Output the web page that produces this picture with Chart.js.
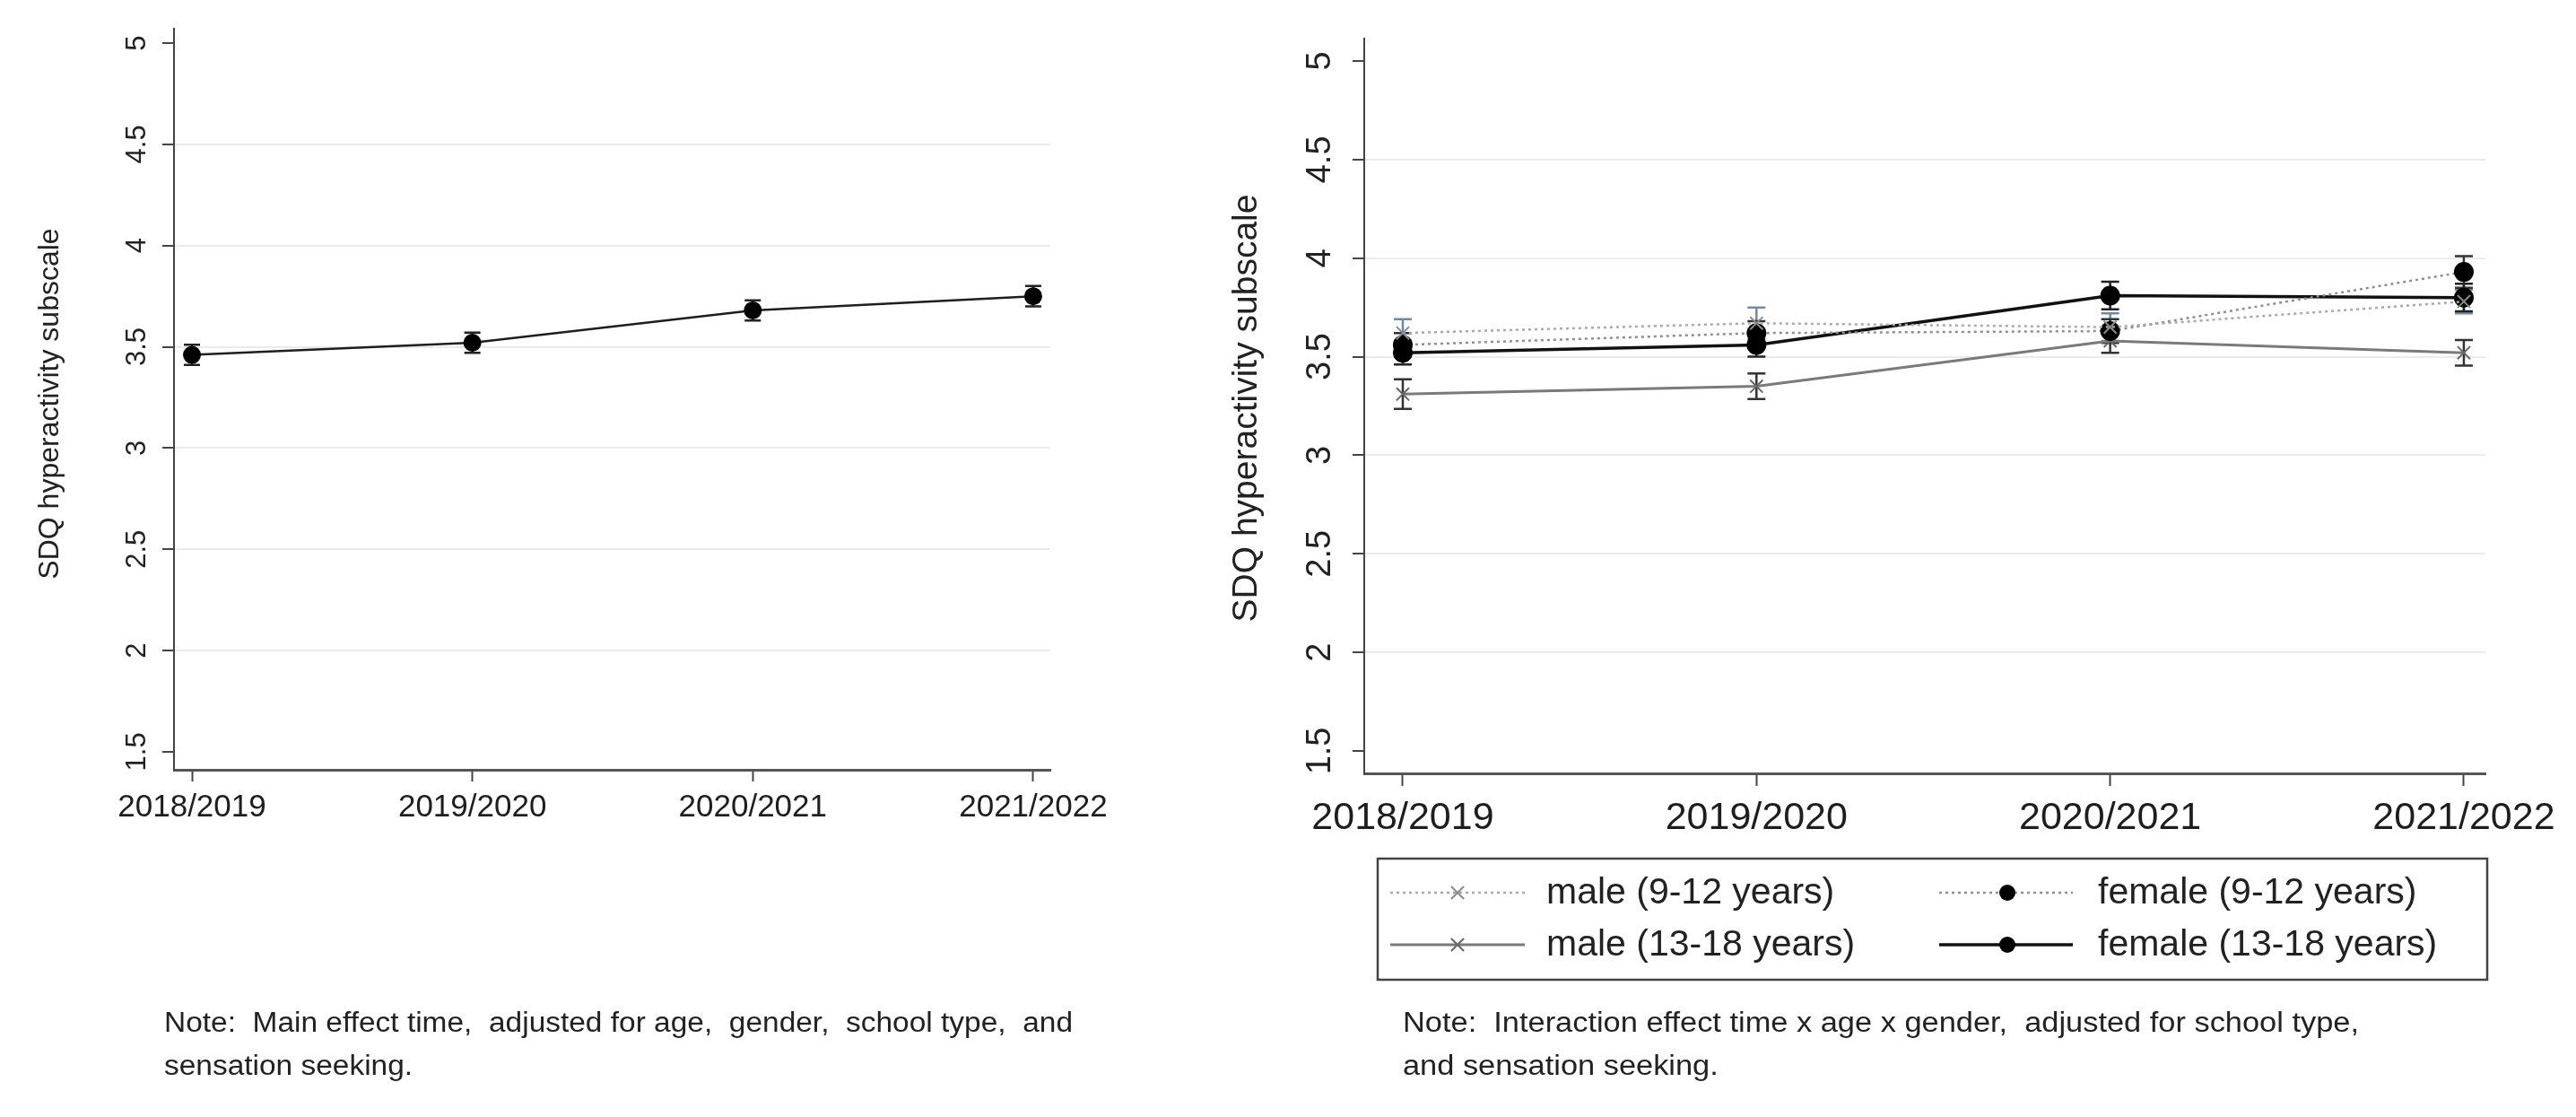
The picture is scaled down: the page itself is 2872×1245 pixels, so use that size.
<!DOCTYPE html>
<html><head><meta charset="utf-8">
<script src="https://cdn.jsdelivr.net/npm/chart.js@4.4.1/dist/chart.umd.min.js"></script>
<style>
html,body{margin:0;padding:0;background:#fff;width:2872px;height:1245px;overflow:hidden;position:relative;}
canvas{position:absolute;top:0;}
#c1{left:0;} #c2{left:1300px;}
.note{position:absolute;font-family:"Liberation Sans",Arial,sans-serif;font-size:31px;color:#222;white-space:pre;transform-origin:0 50%;line-height:1;}
</style></head><body>
<canvas id="c1" width="1300" height="1245"></canvas>
<canvas id="c2" width="1572" height="1245"></canvas>
<div class="note" id="n1a" style="left:183px;top:1124px;">Note:  Main effect time,  adjusted for age,  gender,  school type,  and</div>
<div class="note" id="n1b" style="left:183px;top:1172px;">sensation seeking.</div>
<div class="note" id="n2a" style="left:1564px;top:1124px;">Note:  Interaction effect time x age x gender,  adjusted for school type,</div>
<div class="note" id="n2b" style="left:1564px;top:1172px;">and sensation seeking.</div>
<script>
// ---------- data ----------
const categories = ['2018/2019','2019/2020','2020/2021','2021/2022'];
const yTickValues = [1.5,2,2.5,3,3.5,4,4.5,5];
const yTickLabels = ['1.5','2','2.5','3','3.5','4','4.5','5'];
const yTitle = 'SDQ hyperactivity subscale';

const mainEffect   = [3.46,3.52,3.68,3.75];
const mainEffectCI = [0.05,0.05,0.05,0.05];

const seriesLabels = ['male (9-12 years)','female (9-12 years)','male (13-18 years)','female (13-18 years)'];
const male912     = [3.62,3.67,3.65,3.78];
const male912CI   = [0.07,0.08,0.07,0.06];
const female912   = [3.56,3.62,3.63,3.93];
const female912CI = [0.06,0.06,0.06,0.08];
const male1318    = [3.31,3.35,3.58,3.52];
const male1318CI  = [0.075,0.065,0.06,0.065];
const female1318  = [3.52,3.56,3.81,3.80];
const female1318CI= [0.06,0.06,0.07,0.07];

// ---------- helpers ----------
const FAM = '"Liberation Sans", Arial, sans-serif';
const pts = arr => arr.map((v,i)=>({x:i,y:v}));

const decor = {
  id:'decor',
  beforeDatasetsDraw(chart, args, o){
    const xs=chart.scales.x, ys=chart.scales.y, ctx=chart.ctx;
    chart.data.datasets.forEach(ds=>{
      if(!ds.ci) return;
      ctx.save(); ctx.strokeStyle=ds.ciColor; ctx.lineWidth=o.ciWidth; ctx.setLineDash([]);
      ds.data.forEach((p,i)=>{
        const x=xs.getPixelForValue(p.x);
        const y1=ys.getPixelForValue(p.y-ds.ci[i]), y2=ys.getPixelForValue(p.y+ds.ci[i]);
        ctx.beginPath();
        ctx.moveTo(x,y1); ctx.lineTo(x,y2);
        ctx.moveTo(x-o.cap,y1); ctx.lineTo(x+o.cap,y1);
        ctx.moveTo(x-o.cap,y2); ctx.lineTo(x+o.cap,y2);
        ctx.stroke();
      });
      ctx.restore();
    });
  },
  afterDraw(chart, args, o){
    const ctx=chart.ctx, ys=chart.scales.y;
    ctx.save();
    ctx.fillStyle='#222';
    ctx.textAlign='center'; ctx.textBaseline='middle';
    ctx.font=o.tickFont+'px '+FAM;
    ys.ticks.forEach(t=>{
      const y=ys.getPixelForValue(t.value);
      const lab=yTickLabels[yTickValues.indexOf(t.value)];
      ctx.save(); ctx.translate(o.tickX,y); ctx.rotate(-Math.PI/2); ctx.fillText(lab,0,0); ctx.restore();
    });
    ctx.font=o.titleFont+'px '+FAM;
    ctx.save(); ctx.translate(o.titleX,o.titleY); ctx.rotate(-Math.PI/2); ctx.fillText(yTitle,0,0); ctx.restore();
    const L=o.legend;
    if(L){
      ctx.strokeStyle='#444'; ctx.lineWidth=2.5; ctx.setLineDash([]);
      ctx.strokeRect(L.box[0],L.box[1],L.box[2]-L.box[0],L.box[3]-L.box[1]);
      chart.data.datasets.forEach((ds,i)=>{
        const r=Math.floor(i/2), c=L.cols[i%2], y=L.rows[r];
        ctx.save();
        ctx.strokeStyle=ds.borderColor; ctx.lineWidth=ds.borderWidth;
        ctx.setLineDash(ds.borderDash||[]);
        ctx.beginPath(); ctx.moveTo(c.x0,y); ctx.lineTo(c.x1,y); ctx.stroke();
        ctx.setLineDash([]);
        ctx.fillStyle=ds.pointBackgroundColor; ctx.strokeStyle=ds.pointBorderColor; ctx.lineWidth=ds.pointBorderWidth;
        Chart.helpers.drawPoint(ctx,{pointStyle:ds.pointStyle,radius:L.markerR[i],rotation:0,borderWidth:ds.pointBorderWidth},c.mx,y);
        ctx.restore();
        ctx.fillStyle='#222'; ctx.font=L.font+'px '+FAM; ctx.textAlign='left'; ctx.textBaseline='middle';
        ctx.fillText(ds.label,c.tx,y+1);
      });
    }
    ctx.restore();
  }
};

function yGridColor(c){ return (c.tick && (c.tick.value===5 || c.tick.value===1.5)) ? 'rgba(0,0,0,0)' : '#ebebeb'; }

function makeScales(o){
  return {
    x:{type:'linear', min:o.xmin, max:o.xmax,
      afterBuildTicks:s=>{ s.ticks=categories.map((c,i)=>({value:i})); },
      afterFit:s=>{ s.height=o.xh; },
      grid:{drawOnChartArea:false, drawTicks:true, tickLength:o.xtl, tickColor:'#444', tickWidth:2},
      border:{color:'#555', width:3},
      ticks:{callback:v=>categories[v], font:{size:o.xfont,family:FAM}, color:'#1e1e1e', padding:o.xpad, maxRotation:0, minRotation:0, autoSkip:false}
    },
    y:{type:'linear', min:o.ymin, max:o.ymax,
      afterBuildTicks:s=>{ s.ticks=yTickValues.map(v=>({value:v})); },
      afterFit:s=>{ s.width=o.yw; },
      grid:{color:yGridColor, lineWidth:2, drawTicks:true, tickLength:o.ytl, tickColor:'#444', tickWidth:2},
      border:{color:'#444', width:2},
      ticks:{display:false}
    }
  };
}

// ---------- left chart ----------
new Chart(document.getElementById('c1'),{
  type:'scatter',
  data:{datasets:[{
    label:'main effect', data:pts(mainEffect), ci:mainEffectCI, ciColor:'#222',
    showLine:true, borderColor:'#1e1e1e', borderWidth:2.5,
    pointStyle:'circle', pointRadius:10, pointBackgroundColor:'#000', pointBorderColor:'#000', pointBorderWidth:0
  }]},
  options:{
    responsive:false, animation:false, devicePixelRatio:1,
    layout:{padding:{left:0, top:32, right:129, bottom:0}},
    plugins:{legend:{display:false}, tooltip:{enabled:false},
      decor:{ciWidth:2.5, cap:9, tickFont:31, tickX:153, titleFont:32, titleX:56, titleY:450}},
    scales:makeScales({xmin:-0.064, xmax:3.061, xh:1245-858, xtl:13, xfont:35, xpad:8,
                       ymin:1.411, ymax:5.071, yw:194, ytl:13})
  },
  plugins:[decor]
});

// ---------- right chart ----------
new Chart(document.getElementById('c2'),{
  type:'scatter',
  data:{datasets:[
    {label:seriesLabels[0], data:pts(male912), ci:male912CI, ciColor:'#6d8aa6',
     showLine:true, borderColor:'#a9a9a9', borderWidth:2.5, borderDash:[3,4],
     pointStyle:'crossRot', pointRadius:10, pointBackgroundColor:'#888', pointBorderColor:'#8a8a8a', pointBorderWidth:2},
    {label:seriesLabels[1], data:pts(female912), ci:female912CI, ciColor:'#333',
     showLine:true, borderColor:'#8f8f8f', borderWidth:2.5, borderDash:[3,4],
     pointStyle:'circle', pointRadius:11, pointBackgroundColor:'#000', pointBorderColor:'#000', pointBorderWidth:0},
    {label:seriesLabels[2], data:pts(male1318), ci:male1318CI, ciColor:'#333',
     showLine:true, borderColor:'#7a7a7a', borderWidth:3,
     pointStyle:'crossRot', pointRadius:10, pointBackgroundColor:'#666', pointBorderColor:'#666', pointBorderWidth:2},
    {label:seriesLabels[3], data:pts(female1318), ci:female1318CI, ciColor:'#222',
     showLine:true, borderColor:'#111', borderWidth:3.5,
     pointStyle:'circle', pointRadius:11, pointBackgroundColor:'#000', pointBorderColor:'#000', pointBorderWidth:0}
  ]},
  options:{
    responsive:false, animation:false, devicePixelRatio:1,
    layout:{padding:{left:0, top:43, right:101, bottom:0}},
    plugins:{legend:{display:false}, tooltip:{enabled:false},
      decor:{ciWidth:2.5, cap:10, tickFont:38, tickX:173, titleFont:39, titleX:90, titleY:455,
        legend:{box:[236,957,1473,1092], rows:[995,1053],
          cols:[{x0:250,x1:400,mx:325,tx:424},{x0:862,x1:1011,mx:938,tx:1039}],
          markerR:[10,9,10,9], font:41}}},
    scales:makeScales({xmin:-0.109, xmax:3.061, xh:1245-862, xtl:14, xfont:43, xpad:10,
                       ymin:1.386, ymax:5.114, yw:221, ytl:13})
  },
  plugins:[decor]
});

// ---------- notes: fit widths ----------
function fitNote(a,b,target){
  const ea=document.getElementById(a), eb=document.getElementById(b);
  const w=ea.getBoundingClientRect().width;
  const s=target/w;
  ea.style.transform='scaleX('+s+')'; eb.style.transform='scaleX('+s+')';
}
fitNote('n1a','n1b',1013);
fitNote('n2a','n2b',1066);
</script>
</body></html>
